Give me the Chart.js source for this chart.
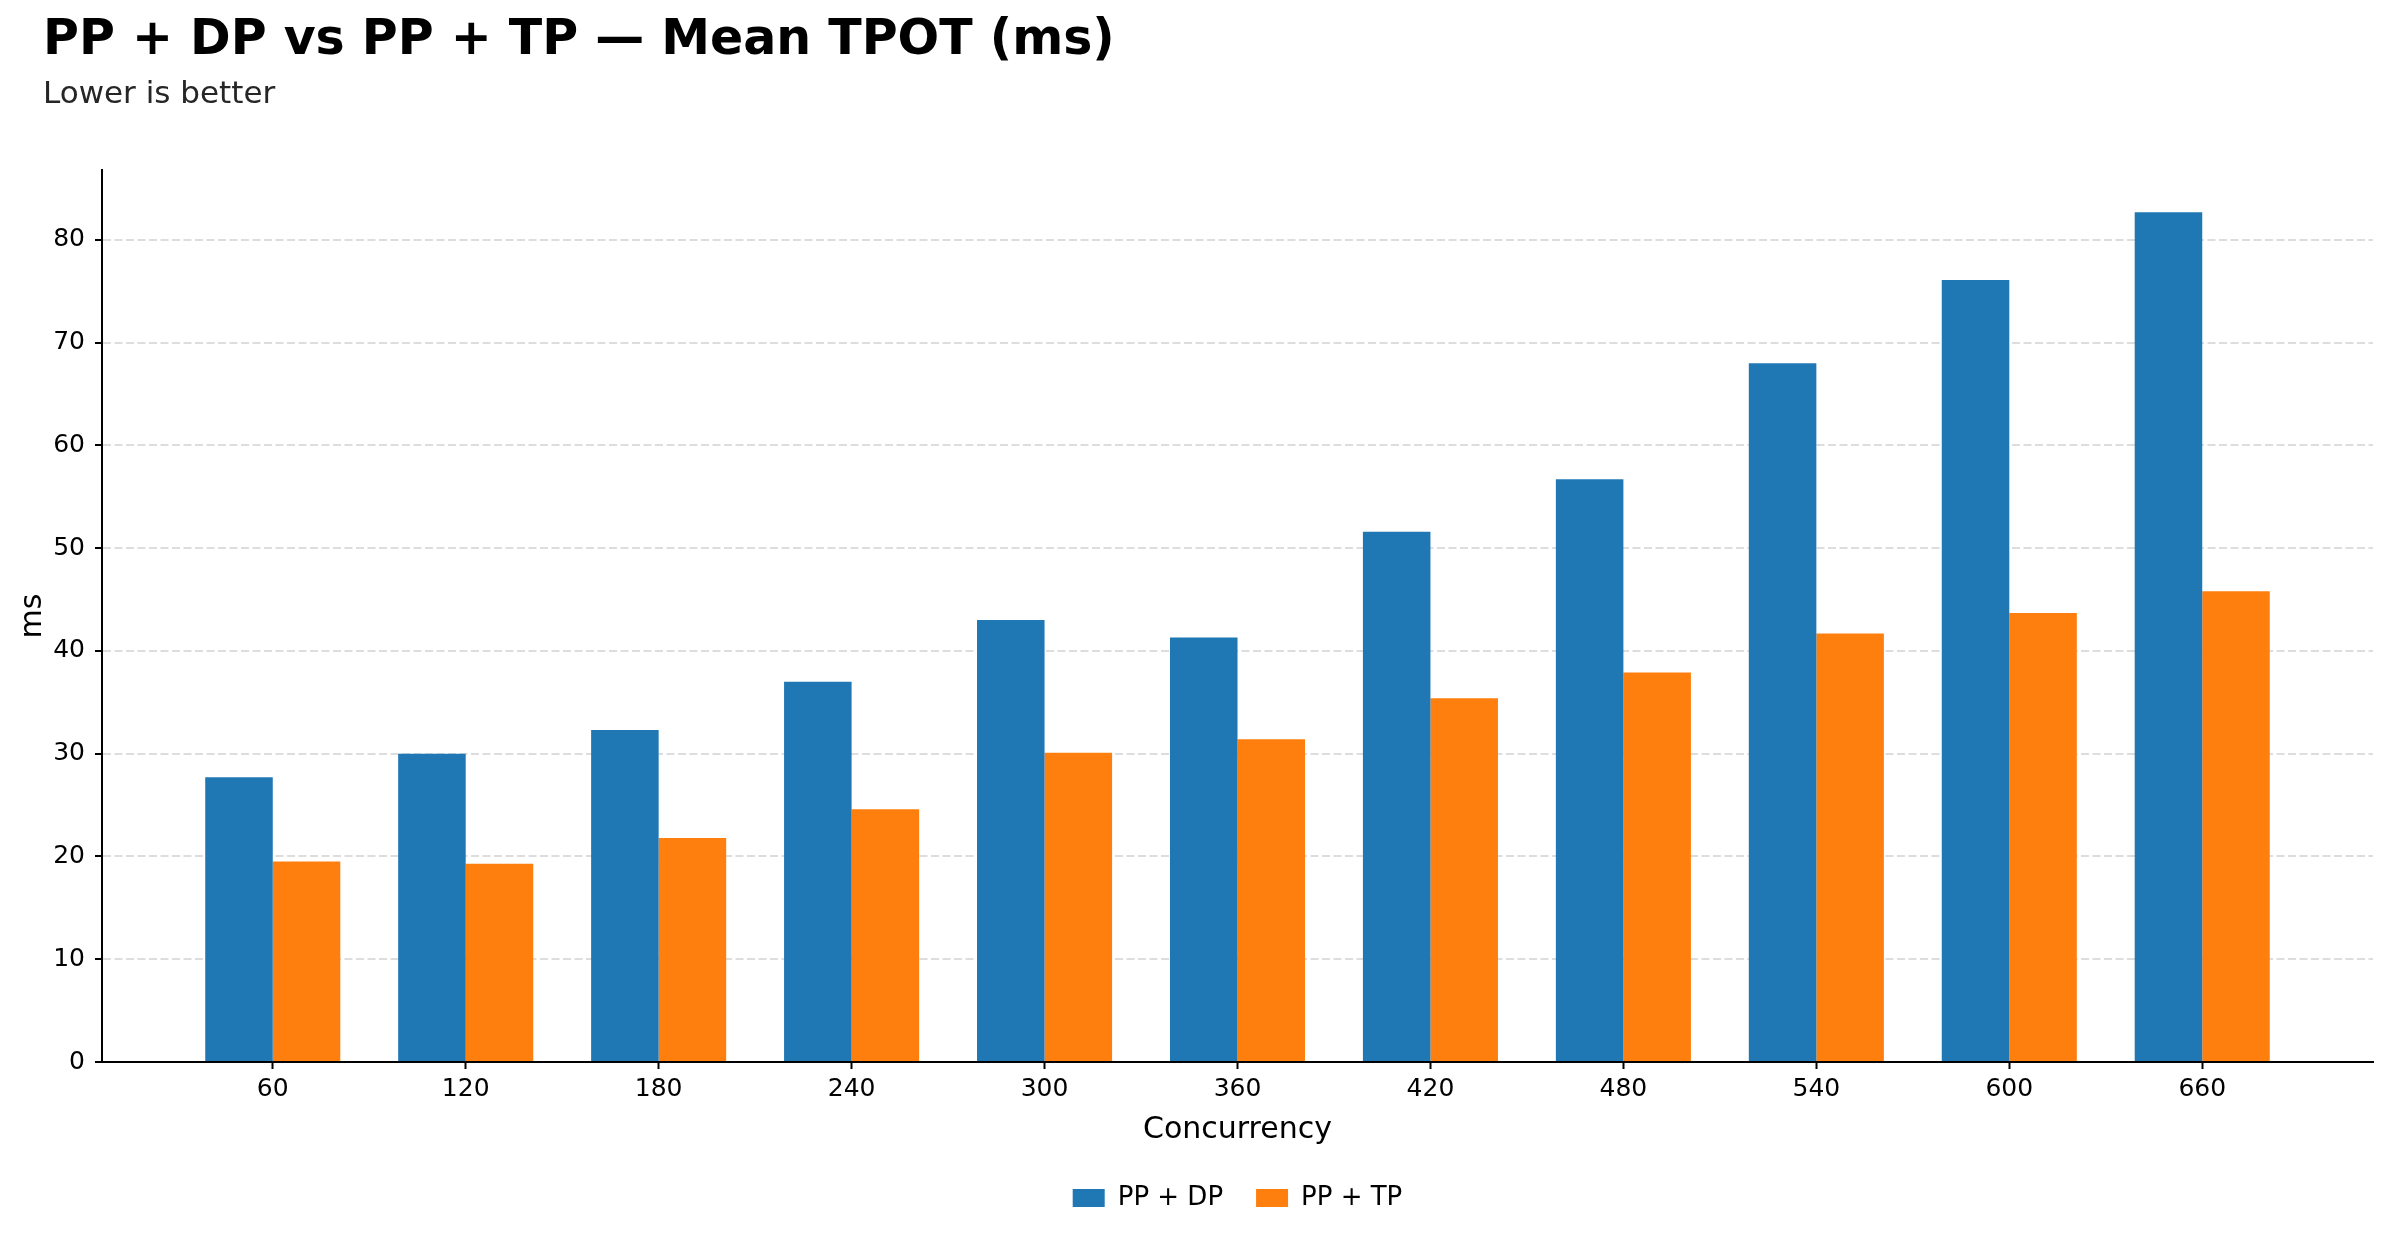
<!DOCTYPE html>
<html>
<head>
<meta charset="utf-8">
<script src="https://cdn.jsdelivr.net/npm/chart.js@4.4.1/dist/chart.umd.min.js"></script>
<style>
  html, body { margin: 0; padding: 0; background: #fff; }
  canvas { display: block; }
</style>
</head>
<body>
<canvas id="myChart" width="2390" height="1237"></canvas>
<script>
const concurrency = [60, 120, 180, 240, 300, 360, 420, 480, 540, 600, 660];
const ppDp = [27.7, 30.0, 32.3, 37.0, 43.0, 41.3, 51.6, 56.7, 68.0, 76.1, 82.7];
const ppTp = [19.5, 19.3, 21.8, 24.6, 30.1, 31.4, 35.4, 37.9, 41.7, 43.7, 45.8];
const yTicks = [0, 10, 20, 30, 40, 50, 60, 70, 80];

const titleText = 'PP + DP vs PP + TP \u2014 Mean TPOT (ms)';
const subtitleText = 'Lower is better';
const FONT = "'DejaVu Sans', 'Noto Sans', sans-serif";

const ctx = document.getElementById('myChart').getContext('2d');

// title + subtitle top left, outside the chart layout
const headerPlugin = {
    id: 'header',
    afterDraw(chart) {
        const c = chart.ctx;
        c.save();
        c.textAlign = 'left';
        c.textBaseline = 'alphabetic';
        c.fillStyle = '#000';
        c.font = 'bold 49px ' + FONT;
        c.fillText(titleText, 43, 54);
        c.fillStyle = '#262626';
        c.font = '31px ' + FONT;
        c.fillText(subtitleText, 43, 103);
        c.restore();
    }
};

const toPoints = vals => vals.map((v, i) => ({x: i, y: v}));

const myChart = new Chart(ctx, {
    type: 'bar',
    data: {
        datasets: [{
            label: 'PP + DP',
            data: toPoints(ppDp),
            backgroundColor: '#1f77b4',
            borderWidth: 0
        }, {
            label: 'PP + TP',
            data: toPoints(ppTp),
            backgroundColor: '#ff7f0e',
            borderWidth: 0
        }]
    },
    options: {
        responsive: false,
        animation: false,
        devicePixelRatio: 1,
        categoryPercentage: 0.7,
        barPercentage: 1.0,
        layout: {
            padding: {top: 170, right: 17, bottom: 16, left: 0}
        },
        scales: {
            x: {
                type: 'linear',
                offset: false,
                min: -0.885,
                max: 10.885,
                afterBuildTicks: axis => {
                    axis.ticks = concurrency.map((_, i) => ({value: i}));
                },
                ticks: {
                    color: '#000',
                    font: {family: FONT, size: 25},
                    padding: 5,
                    maxRotation: 0,
                    autoSkip: false,
                    callback: value => concurrency[value]
                },
                grid: {
                    offset: false,
                    drawOnChartArea: false,
                    drawTicks: true,
                    tickLength: 7,
                    tickWidth: 2,
                    tickColor: '#000'
                },
                border: {display: true, color: '#000', width: 2},
                title: {
                    display: true,
                    text: 'Concurrency',
                    color: '#000',
                    font: {family: FONT, size: 30},
                    padding: {top: 3, bottom: 4}
                }
            },
            y: {
                min: 0,
                max: 86.8,
                afterBuildTicks: axis => {
                    axis.ticks = yTicks.map(v => ({value: v}));
                },
                afterFit: scale => { scale.width = 102; },
                ticks: {
                    color: '#000',
                    font: {family: FONT, size: 25},
                    padding: 10
                },
                grid: {
                    color: '#dddddd',
                    lineWidth: 2,
                    tickLength: 7,
                    tickWidth: 2,
                    tickColor: '#000'
                },
                border: {display: true, color: '#000', width: 2, dash: [8, 3.5]},
                title: {
                    display: true,
                    text: 'ms',
                    color: '#000',
                    font: {family: FONT, size: 30},
                    padding: {top: 15, bottom: 0}
                }
            }
        },
        plugins: {
            title: {display: false},
            tooltip: {enabled: false},
            legend: {
                display: true,
                position: 'bottom',
                fullSize: false,
                labels: {
                    color: '#000',
                    font: {family: FONT, size: 26},
                    boxWidth: 32,
                    boxHeight: 18,
                    padding: 33
                }
            }
        }
    },
    plugins: [headerPlugin]
});
</script>
</body>
</html>
